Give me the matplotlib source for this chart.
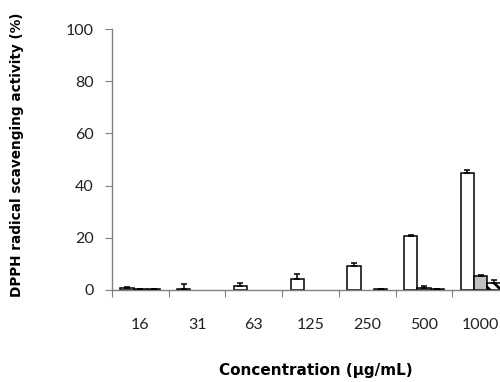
import matplotlib
matplotlib.use("Agg")
import matplotlib.pyplot as plt
import numpy as np

# DPPH scavenging activity at each concentration, three samples
concentrations = ['16', '31', '63', '125', '250', '500', '1000']
white_vals = [0.6, 0.5, 1.6, 4.3, 9.2, 20.6, 45.0]
white_err = [0.4, 1.7, 1.1, 1.7, 1.0, 0.4, 1.0]
gray_vals = [0.3, 0.0, 0.0, 0.0, 0.0, 0.6, 5.4]
gray_err = [0.2, 0.0, 0.0, 0.0, 0.0, 1.0, 0.5]
hatch_vals = [0.2, 0.0, 0.0, 0.0, 0.2, 0.2, 2.6]
hatch_err = [0.0, 0.0, 0.0, 0.0, 0.0, 0.0, 1.2]

plt.rcParams['font.family'] = ['Lato', 'DejaVu Sans']
plt.rcParams['hatch.linewidth'] = 2.0

fig = plt.figure(figsize=(5.0, 3.82), dpi=100)
ax = fig.add_axes([0.224, 0.241, 0.794, 0.683])

x = np.arange(len(concentrations))
w = 0.235
axis_col = '#808080'

def draw_series(offset, vals, err, color, hatch=None):
    vals = np.array(vals)
    err = np.array(err)
    keep = vals > 0  # nothing is drawn for zero activity
    xs = x[keep] + offset
    ax.bar(xs, vals[keep], w, color=color, edgecolor='black', linewidth=1.1,
           hatch=hatch, zorder=2)
    ax.errorbar(xs, vals[keep], yerr=[np.zeros(keep.sum()), err[keep]], fmt='none',
                ecolor='black', elinewidth=1.1, capsize=2.2, capthick=1.1, zorder=3)

draw_series(-w, white_vals, white_err, 'white')
draw_series(0, gray_vals, gray_err, '#c0c0c0')
draw_series(w, hatch_vals, hatch_err, 'white', hatch='\\\\\\')

ax.set_xlim(-0.5, len(concentrations) - 0.5)
ax.set_ylim(0, 100)
ax.set_yticks(np.arange(0, 101, 20))

# category labels sit between the group-boundary tick marks
ax.set_xticks(np.arange(len(concentrations) + 1) - 0.5)
ax.set_xticklabels([])
ax.set_xticks(x, minor=True)
ax.set_xticklabels(concentrations, minor=True)
ax.tick_params(axis='x', which='major', length=5, color=axis_col, direction='out')
ax.tick_params(axis='x', which='minor', length=0, pad=20, labelsize=11.5,
               labelcolor='#222222')
ax.tick_params(axis='y', length=5, color=axis_col, pad=8, labelsize=11.5,
               labelcolor='#222222')

for side in ['top', 'right']:
    ax.spines[side].set_visible(False)
for side in ['left', 'bottom']:
    ax.spines[side].set_color(axis_col)
    ax.spines[side].set_linewidth(1.0)

fig.text(0.034, 0.594, 'DPPH radical scavenging activity (%)', rotation=90,
         ha='center', va='center', fontsize=9.8, fontweight='bold',
         family=['DejaVu Sans'])
fig.text(0.631, 0.03, 'Concentration (\u03bcg/mL)', ha='center', va='center',
         fontsize=11, fontweight='bold', family=['DejaVu Sans'])

fig.savefig('out.png', dpi=100)
